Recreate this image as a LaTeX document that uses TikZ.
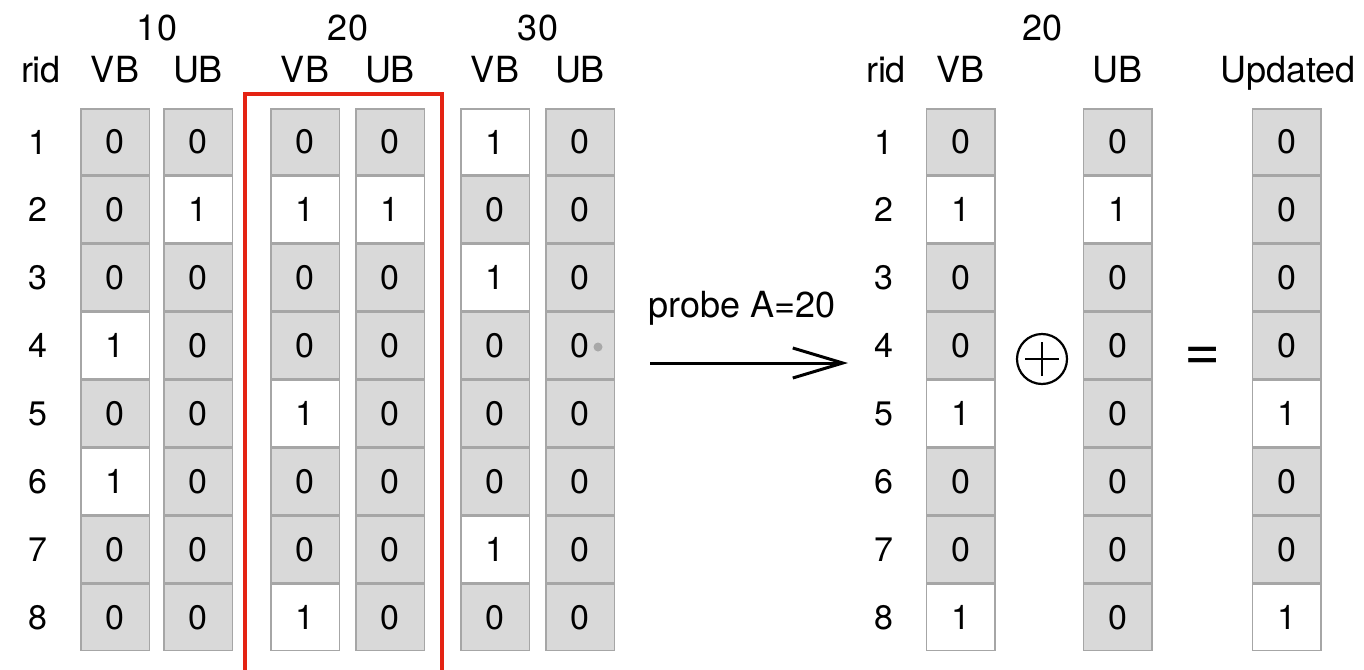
\documentclass[tikz,border=0pt]{standalone}
\usepackage{fontspec}
\setmainfont{TeX Gyre Heros}
\usetikzlibrary{arrows.meta}
\definecolor{cellgray}{HTML}{D9D9D9}
\definecolor{cellline}{HTML}{A6A6A6}
\definecolor{redbox}{HTML}{E42313}
\definecolor{dotgray}{HTML}{A8A8A8}
\begin{document}
\begin{tikzpicture}[x=1pt,y=-1pt,
  cell/.style={draw=cellline, line width=1.5pt, minimum width=68.5pt, minimum height=66.4pt, inner sep=0pt, font=\fontsize{34}{34}\selectfont},
  v0/.style={cell, fill=cellgray},
  v1/.style={cell, fill=white},
  lbl/.style={font=\fontsize{36}{36}\selectfont, inner sep=0pt, anchor=base},
  rowlbl/.style={font=\fontsize{34}{34}\selectfont, inner sep=0pt},
]
\useasboundingbox (0,0) rectangle (1364,669);
\fill[white] (0,0) rectangle (1364,669);

% cell columns
\foreach \col/\cx/\vals in {
  a/115/{0,0,0,1,0,1,0,0},
  b/198/{0,1,0,0,0,0,0,0},
  c/305/{0,1,0,0,1,0,0,1},
  d/390/{0,1,0,0,0,0,0,0},
  e/495/{1,0,1,0,0,0,1,0},
  f/580/{0,0,0,0,0,0,0,0},
  g/960.5/{0,1,0,0,1,0,0,1},
  h/1117.5/{0,1,0,0,0,0,0,0},
  k/1286.5/{0,0,0,0,1,0,0,1}} {
  \foreach \v [count=\r] in \vals {
    \node[v\v] (\col-\r) at (\cx, {108+67.9*(\r-0.5)}) {\v};
  }
}

% row labels
\foreach \r in {1,...,8} {
  \node[rowlbl] (ridL-\r) at (38, {108+67.9*(\r-0.5)}) {\r};
  \node[rowlbl] (ridR-\r) at (884, {108+67.9*(\r-0.5)}) {\r};
}

% headers left
\node[lbl] (h10) at (157,41) {10};
\node[lbl] (h20) at (348,41) {20};
\node[lbl] (h30) at (538,41) {30};
\node[lbl] (hrid) at (41,82) {rid};
\node[lbl] (hvb1) at (115,82) {VB};
\node[lbl] (hub1) at (198,82) {UB};
\node[lbl] (hvb2) at (305,82) {VB};
\node[lbl] (hub2) at (390,82) {UB};
\node[lbl] (hvb3) at (495,82) {VB};
\node[lbl] (hub3) at (580,82) {UB};

% headers right
\node[lbl] (rh20) at (1042,41) {20};
\node[lbl] (rhrid) at (886,82) {rid};
\node[lbl] (rhvb) at (960,82) {VB};
\node[lbl] (rhub) at (1117,82) {UB};
\node[lbl] (rhupd) at (1288,82) {Updated};

% red box
\draw[redbox, line width=4pt] (245,680) -- (245,94) -- (442,94) -- (442,680);

% small dot
\fill[dotgray] (598,347) circle (4.5pt);

% arrow
\coordinate (p0) at (650,363);
\coordinate (p1) at (848,363);
\draw[line width=3pt, -{Straight Barb[length=50pt,width=30pt,line width=3pt]}] (p0) -- (p1);
\node[lbl] (probe) at (742,317) {probe A=20};

% operators
\node[circle, draw, line width=2.2pt, minimum size=50pt, inner sep=0pt] (oplus) at (1042,359) {};
\draw[line width=2.5pt] ([xshift=-17pt]oplus.center) -- ([xshift=17pt]oplus.center);
\draw[line width=2.5pt] ([yshift=-17pt]oplus.center) -- ([yshift=17pt]oplus.center);
\node[inner sep=0pt] (eq) at (1203,359) {\fontsize{62}{62}\selectfont =};
\end{tikzpicture}
\end{document}
